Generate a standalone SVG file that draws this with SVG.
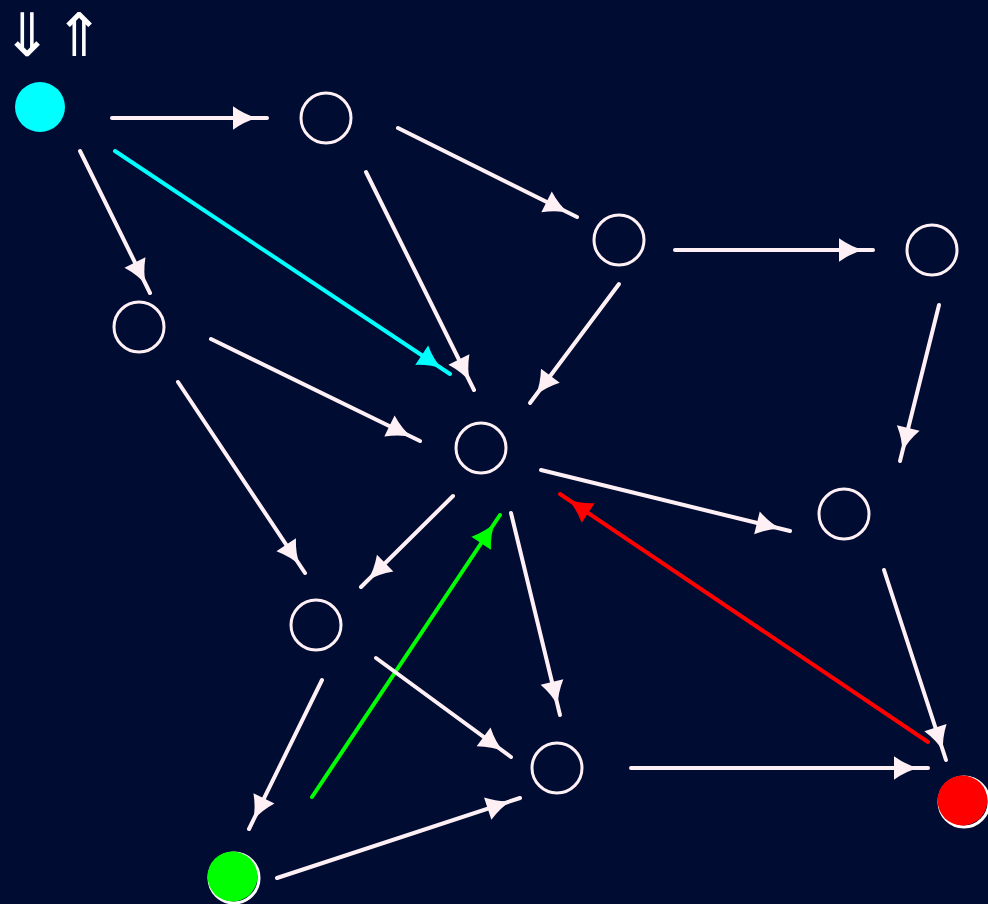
<svg xmlns="http://www.w3.org/2000/svg" width="988" height="904" viewBox="0 0 988 904">
<defs>
<style>
.e{fill:none;stroke-width:4;stroke-linecap:round}
.w{stroke:#fff0f5;marker-end:url(#mw)}
.c{stroke:#00ffff;marker-end:url(#mc)}
.r{stroke:#ff0000;marker-end:url(#mr)}
.g{stroke:#00ff00;marker-end:url(#mg)}
.n{fill:none;stroke:#fff0f5;stroke-width:3}
.h{font-family:"DejaVu Sans",sans-serif;font-size:60px;fill:#ffffff}
</style>
<marker id="mw" markerUnits="userSpaceOnUse" markerWidth="40" markerHeight="30" refX="36" refY="15" orient="auto" overflow="visible"><path d="M2,3.3 Q15,12.5 27,15 Q15,17.5 2,26.7 Z" fill="#fff0f5"/></marker>
<marker id="mc" markerUnits="userSpaceOnUse" markerWidth="40" markerHeight="30" refX="36" refY="15" orient="auto" overflow="visible"><path d="M2,3.3 Q15,12.5 27,15 Q15,17.5 2,26.7 Z" fill="#00ffff"/></marker>
<marker id="mr" markerUnits="userSpaceOnUse" markerWidth="40" markerHeight="30" refX="36" refY="15" orient="auto" overflow="visible"><path d="M2,3.3 Q15,12.5 27,15 Q15,17.5 2,26.7 Z" fill="#ff0000"/></marker>
<marker id="mg" markerUnits="userSpaceOnUse" markerWidth="40" markerHeight="30" refX="36" refY="15" orient="auto" overflow="visible"><path d="M2,3.3 Q15,12.5 27,15 Q15,17.5 2,26.7 Z" fill="#00ff00"/></marker>
</defs>
<rect width="988" height="904" fill="#000c32"/>
<text class="h" x="2" y="56">⇓</text>
<text class="h" x="54" y="56">⇑</text>
<g id="connectors">
<line class="e w" x1="112" y1="118" x2="267" y2="118"/>
<line class="e w" x1="80" y1="151" x2="150" y2="293"/>
<line class="e c" x1="115" y1="151" x2="450" y2="374"/>
<line class="e w" x1="398" y1="128" x2="577" y2="217"/>
<line class="e w" x1="366" y1="172" x2="474" y2="390"/>
<line class="e w" x1="675" y1="250" x2="873" y2="250"/>
<line class="e w" x1="619" y1="284" x2="530" y2="403"/>
<line class="e w" x1="939" y1="305" x2="900" y2="461"/>
<line class="e w" x1="211" y1="339" x2="420" y2="441"/>
<line class="e w" x1="178" y1="382" x2="305" y2="573"/>
<line class="e w" x1="541" y1="470" x2="790" y2="531"/>
<line class="e w" x1="453" y1="496" x2="361" y2="587"/>
<line class="e r" x1="928" y1="742" x2="560" y2="494"/>
<line class="e g" x1="312" y1="797" x2="500" y2="515"/>
<line class="e w" x1="511" y1="513" x2="560" y2="715"/>
<line class="e w" x1="884" y1="570" x2="946" y2="760"/>
<line class="e w" x1="376" y1="658" x2="511" y2="757"/>
<line class="e w" x1="322" y1="680" x2="249" y2="829"/>
<line class="e w" x1="631" y1="768" x2="928" y2="768"/>
<line class="e w" x1="277" y1="878" x2="520" y2="798"/>
</g>
<g id="start"><circle cx="40" cy="107" r="25" fill="#00ffff"/></g>
<g id="n1"><circle class="n" cx="326" cy="118" r="25"/></g>
<g id="n2"><circle class="n" cx="619" cy="240" r="25"/></g>
<g id="n3"><circle class="n" cx="932" cy="250" r="25"/></g>
<g id="n4"><circle class="n" cx="139" cy="327" r="25"/></g>
<g id="n5"><circle class="n" cx="481" cy="448" r="25"/></g>
<g id="n6"><circle class="n" cx="844" cy="514" r="25"/></g>
<g id="n7"><circle class="n" cx="316" cy="625" r="25"/></g>
<g id="n8"><circle class="n" cx="557" cy="768" r="25"/></g>
<g id="red"><circle cx="964" cy="802" r="25" fill="none" stroke="#ffffff" stroke-width="3"/><circle cx="962.5" cy="800.5" r="25" fill="#ff0000"/></g>
<g id="green"><circle cx="234" cy="878" r="25" fill="none" stroke="#ffffff" stroke-width="3"/><circle cx="232.5" cy="876.5" r="25" fill="#00ff00"/></g>
</svg>
